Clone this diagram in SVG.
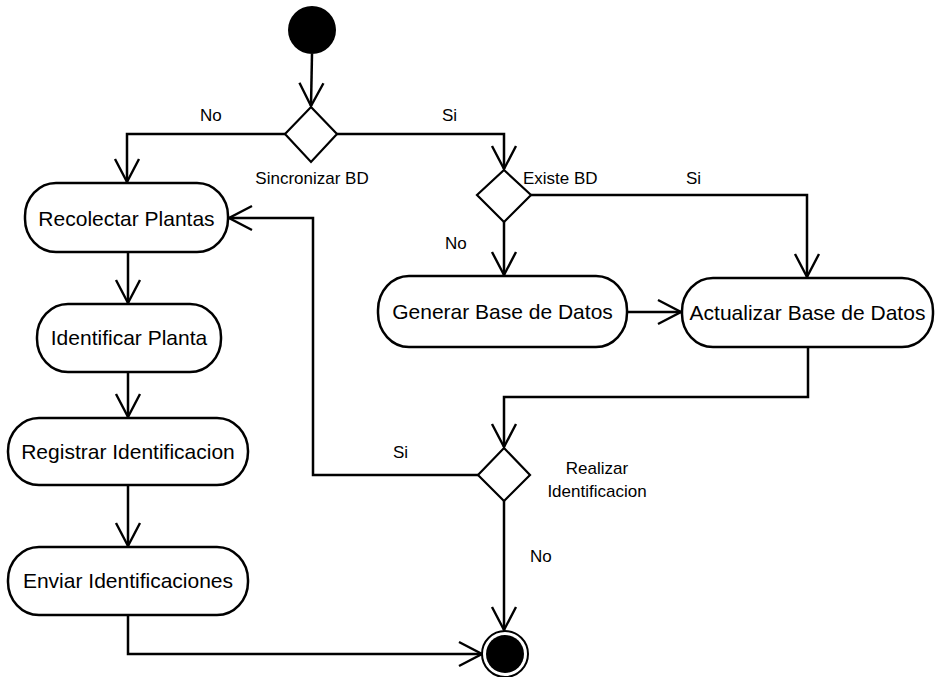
<svg xmlns="http://www.w3.org/2000/svg" width="936" height="677" viewBox="0 0 936 677">
  <style>
    .pill { fill: #fff; stroke: #000; stroke-width: 2.5; }
    .dia { fill: #fff; stroke: #000; stroke-width: 2.2; }
    .edge { fill: none; stroke: #000; stroke-width: 2.5; }
    .ntxt { font-family: "Liberation Sans", Arial, sans-serif; font-size: 21px; fill: #000; text-anchor: middle; dominant-baseline: central; }
    .lbl { font-family: "Liberation Sans", Arial, sans-serif; font-size: 17px; fill: #000; }
  </style>
  <defs>
    <marker id="arr" markerUnits="userSpaceOnUse" viewBox="-26 -16 30 32" refX="0" refY="0" markerWidth="30" markerHeight="32" orient="auto" overflow="visible">
      <path d="M-23,-12 L0,0 L-23,12" fill="none" stroke="#000" stroke-width="2.4"/>
    </marker>
  </defs>

  <!-- connectors -->
  <g id="connectors">
    <path class="edge" d="M312,54 L311,106" marker-end="url(#arr)"/>
    <path class="edge" d="M285,134 L127,134 L127,182" marker-end="url(#arr)"/>
    <path class="edge" d="M337,134 L504,134 L504,169" marker-end="url(#arr)"/>
    <path class="edge" d="M531,195 L807,195 L807,277" marker-end="url(#arr)"/>
    <path class="edge" d="M504,222 L504,275" marker-end="url(#arr)"/>
    <path class="edge" d="M627,312 L681,312" marker-end="url(#arr)"/>
    <path class="edge" d="M808,347 L808,397 L504,397 L504,447" marker-end="url(#arr)"/>
    <path class="edge" d="M478,475 L313,475 L313,218 L229,218" marker-end="url(#arr)"/>
    <path class="edge" d="M504,501 L504,630" marker-end="url(#arr)"/>
    <path class="edge" d="M128,252 L128,303" marker-end="url(#arr)"/>
    <path class="edge" d="M128,372 L128,417" marker-end="url(#arr)"/>
    <path class="edge" d="M128,485 L128,546" marker-end="url(#arr)"/>
    <path class="edge" d="M128,615 L128,654 L482,654" marker-end="url(#arr)"/>
  </g>

  <!-- guard labels -->
  <g id="labels">
    <text class="lbl" x="200" y="121">No</text>
    <text class="lbl" x="442" y="121">Si</text>
    <text class="lbl" x="312" y="184" text-anchor="middle">Sincronizar BD</text>
    <text class="lbl" x="523" y="184">Existe BD</text>
    <text class="lbl" x="686" y="184">Si</text>
    <text class="lbl" x="445" y="249">No</text>
    <text class="lbl" x="393" y="458">Si</text>
    <text class="lbl" x="597" y="474" text-anchor="middle">Realizar</text>
    <text class="lbl" x="597" y="497" text-anchor="middle">Identificacion</text>
    <text class="lbl" x="530" y="562">No</text>
  </g>

  <g id="start">
    <circle cx="312" cy="30" r="24" fill="#000"/>
  </g>

  <g id="sincronizar-bd">
    <polygon class="dia" points="311,107 337,134 311,162 285,134"/>
  </g>

  <g id="existe-bd">
    <polygon class="dia" points="504,170 531,195 504,222 477,195"/>
  </g>

  <g id="realizar-identificacion">
    <polygon class="dia" points="504,448 530,475 504,501 478,475"/>
  </g>

  <g id="recolectar-plantas">
    <rect class="pill" x="25" y="183" width="203" height="69" rx="31" ry="33"/>
    <text class="ntxt" x="126.5" y="218">Recolectar Plantas</text>
  </g>

  <g id="identificar-planta">
    <rect class="pill" x="37" y="304" width="184" height="68" rx="31" ry="33"/>
    <text class="ntxt" x="129" y="337">Identificar Planta</text>
  </g>

  <g id="registrar-identificacion">
    <rect class="pill" x="8" y="418" width="240" height="67" rx="31" ry="33"/>
    <text class="ntxt" x="128" y="451">Registrar Identificacion</text>
  </g>

  <g id="enviar-identificaciones">
    <rect class="pill" x="8" y="547" width="240" height="68" rx="31" ry="33"/>
    <text class="ntxt" x="128" y="580">Enviar Identificaciones</text>
  </g>

  <g id="generar-base-de-datos">
    <rect class="pill" x="378" y="276" width="249" height="71" rx="31" ry="34"/>
    <text class="ntxt" x="502.5" y="311">Generar Base de Datos</text>
  </g>

  <g id="actualizar-base-de-datos">
    <rect class="pill" x="682" y="278" width="251" height="69" rx="31" ry="33"/>
    <text class="ntxt" x="807.5" y="312">Actualizar Base de Datos</text>
  </g>

  <g id="end">
    <circle cx="505" cy="654" r="23" fill="#fff" stroke="#000" stroke-width="2"/>
    <circle cx="505" cy="654" r="19" fill="#000"/>
  </g>
</svg>
